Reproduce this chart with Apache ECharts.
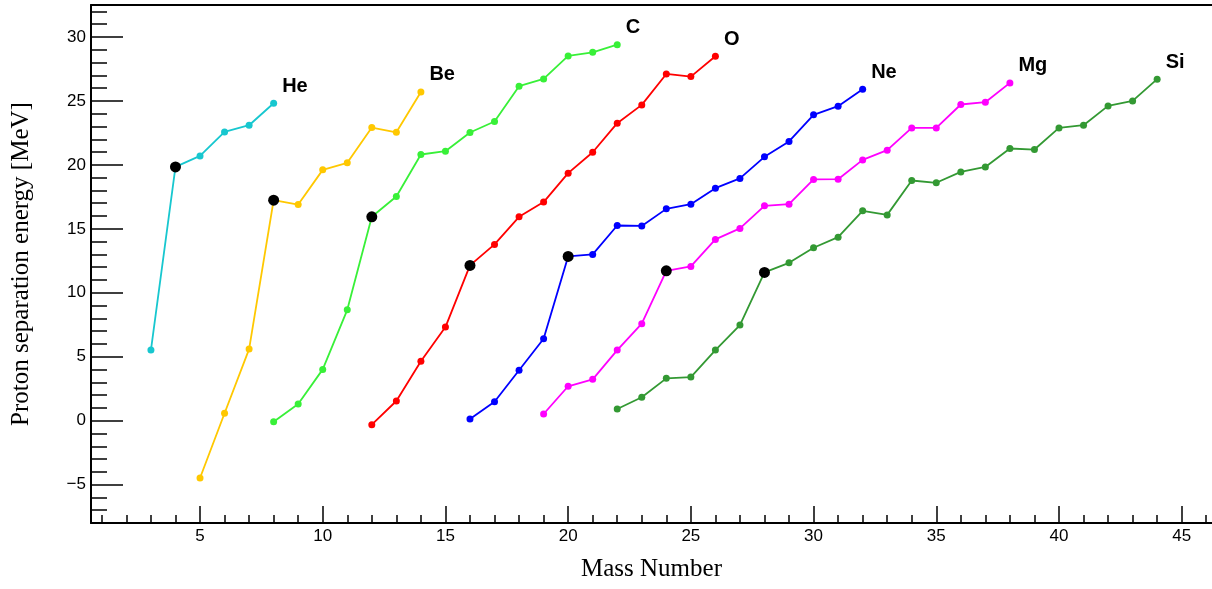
<!DOCTYPE html>
<html>
<head>
<meta charset="utf-8">
<script src="https://cdn.jsdelivr.net/npm/echarts@6/dist/echarts.min.js"></script>
<style>
html,body{margin:0;padding:0;background:#fff;}
#chart{width:1212px;height:589px;}
</style>
</head>
<body>
<div id="chart"></div>
<script>
// Element names, proton numbers and first mass number of each chain
const elementNames = ['He', 'Be', 'C', 'O', 'Ne', 'Mg', 'Si'];
const protonNumbers = [2, 4, 6, 8, 10, 12, 14];
const firstMass = [3, 5, 8, 12, 16, 19, 22];
const elementColors = ['#17C7CF', '#FFC800', '#38F038', '#FF0000', '#0000FF', '#FF00FF', '#339933'];

// Proton separation energies [MeV], consecutive mass numbers from firstMass
const heValues = [5.52, 19.84, 20.7, 22.58, 23.1, 24.82];
const beValues = [-4.48, 0.58, 5.6, 17.24, 16.9, 19.61, 20.16, 22.92, 22.55, 25.7];
const cValues = [-0.08, 1.3, 4.01, 8.67, 15.94, 17.53, 20.81, 21.07, 22.53, 23.39, 26.15, 26.72, 28.52, 28.8, 29.4];
const oValues = [-0.31, 1.54, 4.64, 7.32, 12.14, 13.78, 15.94, 17.09, 19.35, 20.99, 23.26, 24.69, 27.11, 26.9, 28.49];
const neValues = [0.13, 1.48, 3.94, 6.41, 12.84, 13.0, 15.26, 15.23, 16.56, 16.93, 18.18, 18.94, 20.63, 21.83, 23.91, 24.59, 25.91];
const mgValues = [0.52, 2.69, 3.23, 5.52, 7.58, 11.72, 12.06, 14.17, 15.03, 16.8, 16.93, 18.86, 18.88, 20.39, 21.15, 22.89, 22.89, 24.72, 24.9, 26.41];
const siValues = [0.91, 1.83, 3.31, 3.41, 5.52, 7.48, 11.59, 12.34, 13.52, 14.35, 16.41, 16.09, 18.78, 18.6, 19.45, 19.84, 21.28, 21.2, 22.89, 23.1, 24.61, 25.0, 26.7];

// Tick values
const xMajorTicks = [5, 10, 15, 20, 25, 30, 35, 40, 45];
const xMinorTicks = [1,2,3,4,5,6,7,8,9,10,11,12,13,14,15,16,17,18,19,20,21,22,23,24,25,26,27,28,29,30,31,32,33,34,35,36,37,38,39,40,41,42,43,44,45,46];
const yMajorTicks = [-5, 0, 5, 10, 15, 20, 25, 30];
const yMinorTicks = [-7,-6,-5,-4,-3,-2,-1,0,1,2,3,4,5,6,7,8,9,10,11,12,13,14,15,16,17,18,19,20,21,22,23,24,25,26,27,28,29,30,31,32];

const allValues = [heValues, beValues, cValues, oValues, neValues, mgValues, siValues];

const chart = echarts.init(document.getElementById('chart'), null, {renderer: 'canvas'});

const series = allValues.map((vals, i) => {
  const data = vals.map((v, k) => {
    const item = {value: [firstMass[i] + k, v]};
    if (k === vals.length - 1) {
      item.label = {
        show: true,
        formatter: elementNames[i],
        position: 'right',
        distance: 5,
        offset: [0, -17],
        fontFamily: 'Liberation Sans',
        fontWeight: 'bold',
        fontSize: 20,
        color: '#000'
      };
    }
    return item;
  });
  return {
    type: 'line',
    name: elementNames[i],
    data: data,
    symbol: 'circle',
    symbolSize: 7,
    showAllSymbol: true,
    lineStyle: {color: elementColors[i], width: 1.8},
    itemStyle: {color: elementColors[i]},
    z: 3
  };
});

// N = Z points (A = 2Z) highlighted in black
const nzData = allValues.map((vals, i) => {
  const a = 2 * protonNumbers[i];
  return [a, vals[a - firstMass[i]]];
});
series.push({
  type: 'scatter',
  name: 'N=Z',
  data: nzData,
  symbol: 'circle',
  symbolSize: 11,
  itemStyle: {color: '#000', opacity: 1},
  z: 5
});

const axisFont = {fontFamily: 'Liberation Sans', fontSize: 17, color: '#000'};
const minusFmt = v => String(v).replace('-', '\u2212');
const X_MIN = 0.558, X_MAX = 46.235;

chart.setOption({
  animation: false,
  backgroundColor: '#fff',
  grid: {left: 91, right: 0, top: 5, bottom: 66, show: false},
  xAxis: [
    {
      type: 'value', min: X_MIN, max: X_MAX, position: 'bottom',
      axisLine: {show: true, onZero: false, lineStyle: {color: '#000', width: 2}},
      axisTick: {show: true, inside: true, length: 17, customValues: xMajorTicks, lineStyle: {color: '#000', width: 1.5}},
      axisLabel: Object.assign({show: true, margin: 5, customValues: xMajorTicks}, axisFont),
      splitLine: {show: false},
      name: 'Mass Number', nameLocation: 'middle', nameGap: 34,
      nameTextStyle: {fontFamily: 'Liberation Serif', fontSize: 25, color: '#000'}
    },
    {
      type: 'value', min: X_MIN, max: X_MAX, position: 'bottom',
      axisLine: {show: false, onZero: false},
      axisTick: {show: true, inside: true, length: 8, customValues: xMinorTicks, lineStyle: {color: '#000', width: 1.5}},
      axisLabel: {show: false},
      splitLine: {show: false}
    },
    {
      type: 'value', min: X_MIN, max: X_MAX, position: 'top',
      axisLine: {show: true, onZero: false, lineStyle: {color: '#000', width: 2}},
      axisTick: {show: false},
      axisLabel: {show: false},
      splitLine: {show: false}
    }
  ],
  yAxis: [
    {
      type: 'value', min: -8, max: 32.5, position: 'left',
      axisLine: {show: true, onZero: false, lineStyle: {color: '#000', width: 2}},
      axisTick: {show: true, inside: true, length: 32, customValues: yMajorTicks, lineStyle: {color: '#000', width: 1.5}},
      axisLabel: Object.assign({show: true, margin: 5, customValues: yMajorTicks, formatter: minusFmt}, axisFont),
      splitLine: {show: false},
      name: 'Proton separation energy [MeV]', nameLocation: 'middle', nameGap: 57,
      nameTextStyle: {fontFamily: 'Liberation Serif', fontSize: 25, color: '#000'}
    },
    {
      type: 'value', min: -8, max: 32.5, position: 'left',
      axisLine: {show: false, onZero: false},
      axisTick: {show: true, inside: true, length: 16, customValues: yMinorTicks, lineStyle: {color: '#000', width: 1.5}},
      axisLabel: {show: false},
      splitLine: {show: false}
    }
  ],
  series: series
});
</script>
</body>
</html>
